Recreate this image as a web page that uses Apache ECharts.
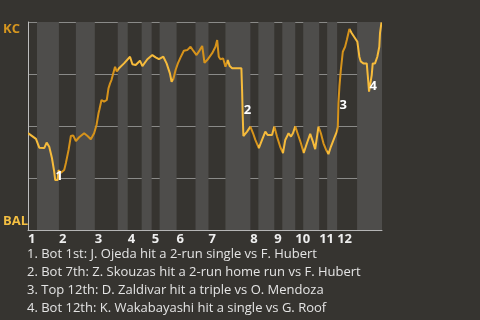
<!DOCTYPE html>
<html>
<head>
<meta charset="utf-8">
<script src="https://cdn.jsdelivr.net/npm/echarts@6/dist/echarts.min.js"></script>
<style>
html,body{margin:0;padding:0;background:#363430;}
#chart{width:480px;height:320px;}
</style>
</head>
<body>
<div id="chart"></div>
<script>
// pitch index (x) and KC win probability (%)
const pitchIdx = [0,8,11.3,16.3,18.7,21.3,24,26.3,27.3,29.7,30.7,33,36.3,38,40.7,43,45.3,48,51.3,56.3,59.7,63,66.3,68.7,70.7,71.5,73.7,76.3,79,80.7,82.3,83.7,85.7,87.3,89,91.3,96.3,102.3,104.7,108,112.3,114.7,119.7,124.7,128,131.3,135.7,139,142.3,144,145.7,148,150.3,153,156.3,159.7,163,165.7,169,172.3,174.7,177,179.7,184.7,188,189.7,191.3,193,195.7,198,200.3,202.3,204.7,214,214.7,215.3,216,219.7,223,225.7,228,231.5,234.7,238,240.3,244.7,247,249.7,253,255.7,258,261.3,263.7,265.7,268,270.3,273.7,276.5,279.7,283,285.7,288,289.7,291.3,293.7,296.3,299,301.3,303.7,307,309.7,310.7,311.3,312.3,313.7,315.7,318,319.7,322.3,324.7,328,330.3,332.3,333.7,336.3,339.7,340.7,342,343.7,344.7,345.7,348,350.3,352.3,353,354.5,355];
const kcWinPct = [46.6,43.8,39.6,39.4,42.0,40.0,34.6,28.0,24.0,24.0,28.8,27.5,28.8,32.2,38.5,45.2,45.5,42.8,44.6,46.5,45.2,43.6,46.5,50.5,56.1,57.7,62.5,61.7,62.5,68.1,70.5,72.1,71.3,78.5,76.2,77.8,80.1,83.3,79.7,79.3,81.4,78.8,82.1,84.1,83.0,82.1,83.3,80.1,75.3,71.3,72.5,76.9,80.1,83.0,86.2,86.5,88.1,86.2,84.1,86.5,88.5,80.4,81.7,85.0,88.1,91.3,83.3,82.1,82.5,78.5,81.7,78.8,77.8,77.8,67.3,55.3,45.2,47.3,49.7,46.5,43.3,39.4,43.3,47.3,45.7,45.7,49.8,44.9,39.9,37.0,43.3,46.5,44.9,46.5,49.8,46.5,41.7,37.0,41.7,46.2,42.5,38.9,38.9,49.7,46.5,41.7,38.5,36.5,40.0,44.1,47.3,49.5,61.0,68.9,76.9,85.7,88.1,91.3,96.6,94.6,92.2,90.5,83.3,81.0,80.1,80.1,74.5,66.5,66.5,74.5,80.1,80.1,83.3,88.1,94.6,99.8,100];

// inning structure (pitch index)
const inningLabels = ['1','2','3','4','5','6','7','8','9','10','11','12'];
const topHalfStarts = [0,31,67,100,124,149,181,223,247,268,292,310];
const bottomHalfStarts = [9,48,90,114,132,168,198,231,255,276,300,330];
const bottomHalfEnds = [31,67,100,124,149,181,223,247,268,292,310,355];
const totalPitches = 355;

// line colour segments (pitch index boundaries) alternating light/dark
const colorBreaks = [0,31,90,145,200,223,231,247,255,268,276,292,300,310,323,355];
const colorSeq = ['light','dark','light','dark','light','dark','light','dark','light','dark','light','dark','light','dark','light'];

// key events
const eventMarks = ['1','2','3','4'];
const eventX = [31.3,220,316,346.3];
const eventY = [25.8,57.7,60.0,69.2];
const eventTexts = [
  '1. Bot 1st: J. Ojeda hit a 2-run single vs F. Hubert',
  '2. Bot 7th: Z. Skouzas hit a 2-run home run vs F. Hubert',
  '3. Top 12th: D. Zaldivar hit a triple vs O. Mendoza',
  '4. Bot 12th: K. Wakabayashi hit a single vs G. Roof'
];
const teamTop = 'KC';
const teamBottom = 'BAL';

const COLORS = {light:'#f6bb3b', dark:'#d6931b'};
const FONT = '"Open Sans", "Noto Sans", sans-serif';

const chart = echarts.init(document.getElementById('chart'), null, {renderer:'canvas'});

const lineData = pitchIdx.map((x,i)=>[x,kcWinPct[i]]);
const bands = bottomHalfStarts.map((s,i)=>[{xAxis:s},{xAxis:bottomHalfEnds[i]}]);
const pieces = colorSeq.map((c,i)=>{
  const p = {gte:colorBreaks[i], color:COLORS[c]};
  if(i===colorSeq.length-1) p.lte = colorBreaks[i+1]; else p.lt = colorBreaks[i+1];
  return p;
});

const option = {
  backgroundColor:'#363430',
  animation:false,
  textStyle:{fontFamily:FONT},
  title:{
    text: eventTexts.join('\n'),
    left: 27, top: 245, padding:0,
    textStyle:{color:'#e4e4e4', fontSize:13, fontWeight:'normal', lineHeight:18, fontFamily:FONT}
  },
  grid:{left:27, right:98, top:22, bottom:90},
  xAxis:{
    type:'value', min:0, max:totalPitches, z:1,
    axisLine:{show:true, lineStyle:{color:'#b5b5b5', width:1}},
    axisTick:{show:false},
    splitLine:{show:false},
    axisLabel:{
      customValues: topHalfStarts,
      formatter:(v)=>{const i=topHalfStarts.indexOf(v); return i>=0?inningLabels[i]:'';},
      align:'left', margin:3, color:'#eeeeee', fontSize:13, fontWeight:'bold', fontFamily:FONT
    }
  },
  yAxis:{
    type:'value', min:0, max:100, interval:25, z:1,
    axisLine:{show:true, lineStyle:{color:'#bdbdbd', width:1}},
    axisTick:{show:false},
    splitLine:{show:true, lineStyle:{color:'#8a8a88', width:1}},
    axisLabel:{
      align:'left', margin:25,
      formatter:(v)=> v===100?'{kc|'+teamTop+'}':(v===0?'{bal|'+teamBottom+'}':''),
      rich:{
        kc:{color:'#d6961f', fontSize:13, fontWeight:'bold', fontFamily:FONT, padding:[14,0,0,0]},
        bal:{color:'#f4bf42', fontSize:13, fontWeight:'bold', fontFamily:FONT, padding:[0,0,18,0]}
      }
    }
  },
  visualMap:{type:'piecewise', show:false, dimension:0, seriesIndex:1, pieces:pieces},
  series:[
    {
      type:'line', data:[], z:0, silent:true,
      markArea:{silent:true, itemStyle:{color:'#4e4d4b'}, data:bands}
    },
    {
      type:'line', data:lineData, showSymbol:false, z:2,
      lineStyle:{width:2},
      markPoint:{
        symbol:'circle', symbolSize:1, silent:true,
        itemStyle:{color:'rgba(0,0,0,0)'},
        label:{show:true, position:'inside', color:'#ffffff', fontSize:13, fontWeight:'bold', fontFamily:FONT},
        data: eventMarks.map((m,i)=>({coord:[eventX[i],eventY[i]], value:m, label:{formatter:m}}))
      }
    }
  ]
};
chart.setOption(option);
</script>
</body>
</html>
